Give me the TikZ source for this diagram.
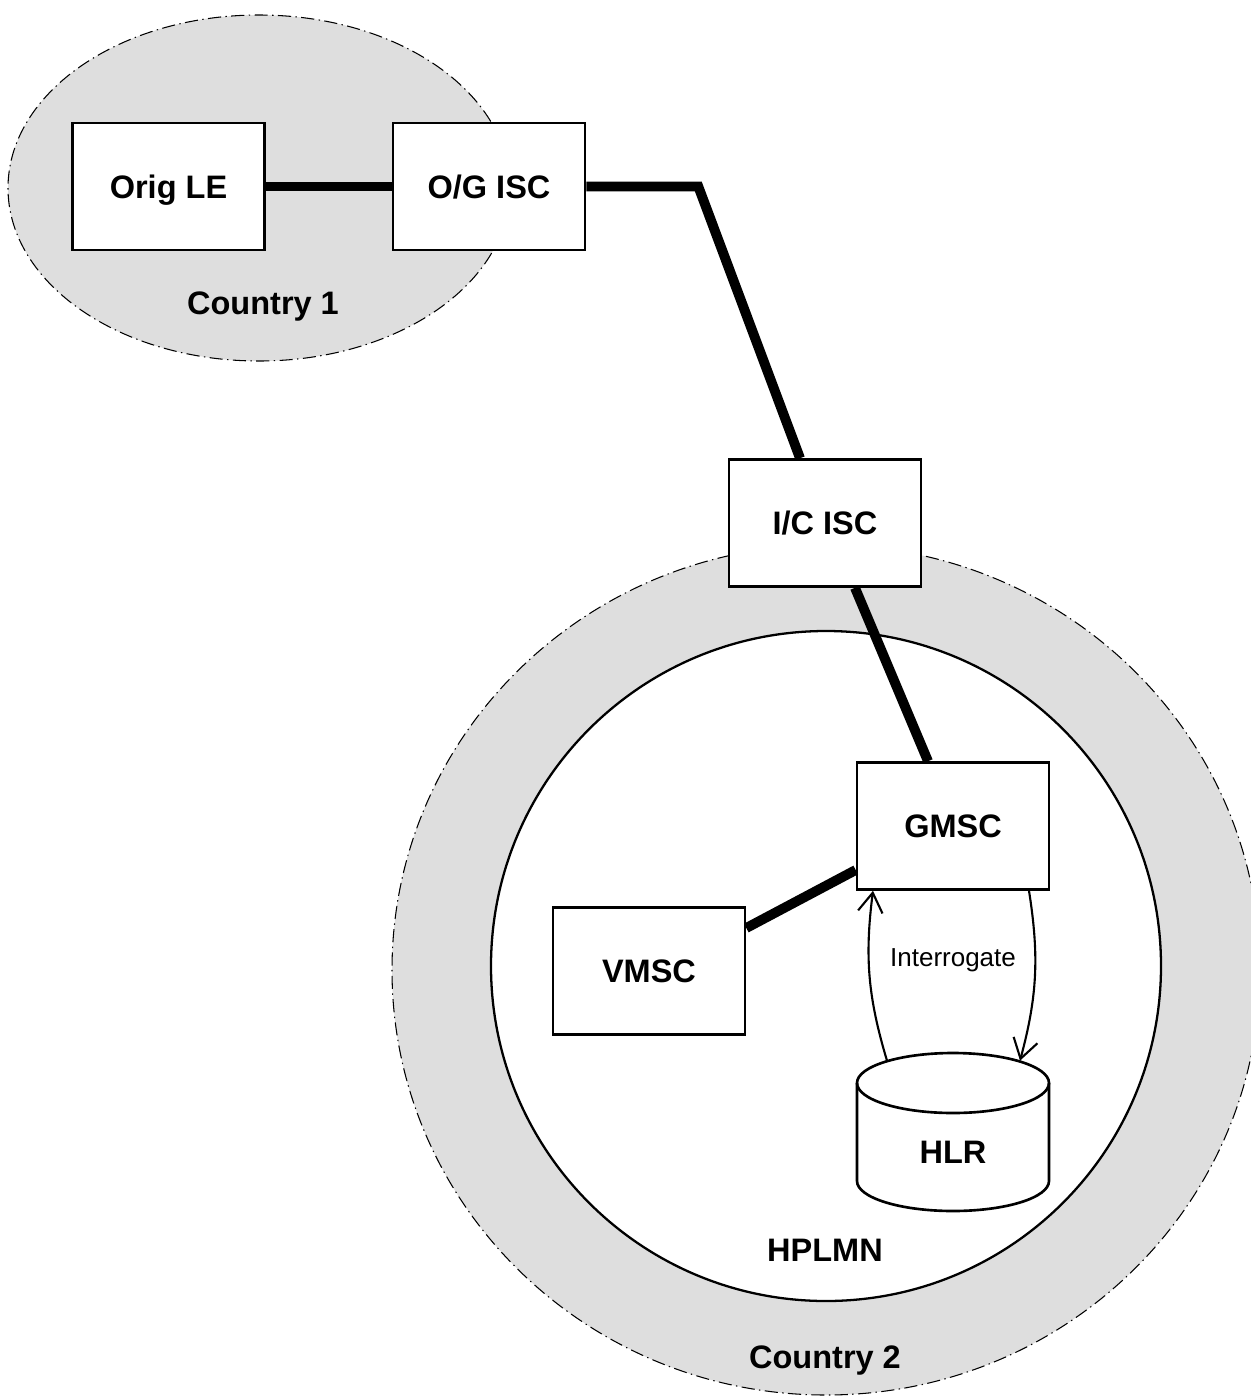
\documentclass[tikz,border=0pt]{standalone}
\usepackage{fontspec}
\setmainfont{Liberation Sans}
\usetikzlibrary{arrows.meta,calc}
\definecolor{ringgray}{RGB}{222,222,222}
\begin{document}
\begin{tikzpicture}[x=0.02cm,y=0.02cm,
  box/.style={draw, line width=1.5pt, fill=white, minimum width=3.84cm, minimum height=2.54cm, inner sep=0pt},
  big/.style={font=\fontsize{18.5}{21}\selectfont\bfseries, text height=13.2pt, text depth=0pt, inner sep=0pt},
  small/.style={font=\fontsize{14.8}{17}\selectfont, text height=10.6pt, text depth=0pt, inner sep=0pt},
  region/.style={fill=ringgray, draw=black, line width=0.6pt, dash pattern=on 7.5pt off 2.5pt on 0.8pt off 2.5pt},
  trunk/.style={line width=5.6pt},
  msg/.style={line width=1.2pt, -{Straight Barb[length=11pt,width=14pt,line width=1.2pt]}}]
\useasboundingbox (0,0) rectangle (1251,-1400);
\clip (0,0) rectangle (1251,-1400);
% regions
\draw[region] (259,-188) ellipse [x radius=251, y radius=173];
\draw[region] (826,-970) ellipse [x radius=434, y radius=425];
\draw[fill=white, line width=1.3pt] (826,-966) circle [radius=335];
% nodes
\node[box,big] (orig) at (168.5,-186.5) {Orig LE};
\node[box,big] (og) at (489,-186.5) {O/G ISC};
\node[box,big] (ic) at (825,-523) {I/C ISC};
\node[box,big] (gmsc) at (953,-826) {GMSC};
\node[box,big] (vmsc) at (649,-971) {VMSC};
\node[minimum width=3.84cm, minimum height=3.18cm, inner sep=0pt] (hlr) at (953,-1131.5) {};
\draw[line width=1.5pt, fill=white] (857,-1083) -- (857,-1181)
  arc[start angle=180, end angle=360, x radius=96, y radius=30] -- (1049,-1083)
  arc[start angle=0, end angle=180, x radius=96, y radius=30] -- cycle;
\draw[line width=1.5pt] (857,-1083) arc[start angle=180, end angle=360, x radius=96, y radius=30];
\node[big] (hlrlabel) at (953,-1152) {HLR};
% labels
\node[big] (c1) at (263,-303) {Country 1};
\node[big] (hplmn) at (825,-1250) {HPLMN};
\node[big] (c2) at (825,-1357) {Country 2};
\node[small] (interrogate) at (953,-957) {Interrogate};
% trunks
\coordinate (bend) at ($(og.east)+(112,0)$);
\draw[trunk] (orig.east) -- (og.west);
\draw[trunk] (og.east) -- (bend) -- ($(ic.north)+(-25,0)$);
\draw[trunk] ($(ic.south)+(30,0)$) -- ($(gmsc.north)+(-25,0)$);
\draw[trunk] ($(vmsc.east)+(0,43)$) -- ($(gmsc.west)+(0,-44)$);
% interrogate messages
\draw[msg] ($(hlr.north)+(-66,-9)$) to[bend left=12] ($(gmsc.south)+(-80,0)$);
\draw[msg] ($(gmsc.south)+(76,0)$) to[bend left=12] ($(hlr.north)+(67,-9)$);
\end{tikzpicture}
\end{document}
